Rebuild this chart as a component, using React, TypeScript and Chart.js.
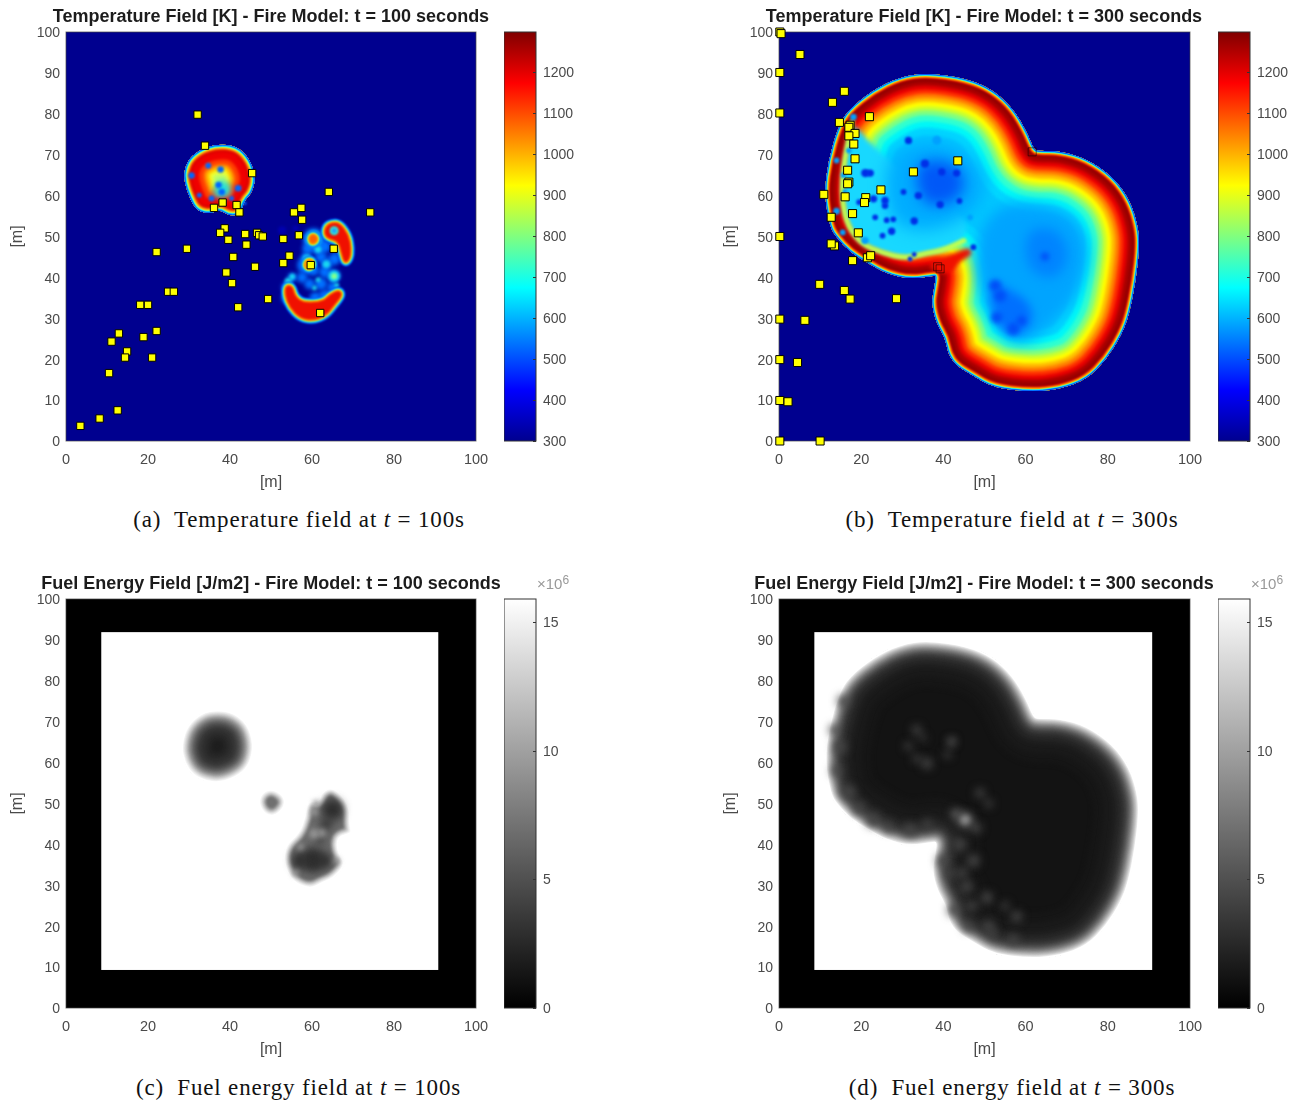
import React, { useEffect, useRef } from "react";
import { Chart, registerables } from "chart.js";

Chart.register(...registerables);

type Pt = number[];

// ---------- sensor markers [x, y] in metres ----------
const markers100: Pt[] = [
  [32.1, 79.8], [33.9, 72.2], [45.4, 65.5], [64.1, 60.9], [38.2, 58.3], [41.6, 57.7], [36.1, 57], [42.3, 55.9],
  [55.6, 55.9], [57.4, 57], [57.6, 54.1], [74.2, 55.9], [38.7, 52], [37.6, 50.9], [39.6, 49.2], [43.7, 50.6],
  [46.6, 50.9], [47.1, 50.3], [48, 50], [53, 49.4], [56.8, 50.3], [22.1, 46.2], [29.5, 47], [44, 48], [40.8, 45],
  [54.5, 45.3], [53, 43.5], [46.1, 42.6], [59.7, 43], [65.3, 47], [39.1, 41.2], [40.5, 38.6], [24.9, 36.5],
  [26.3, 36.5], [18.1, 33.3], [20, 33.3], [49.3, 34.7], [42, 32.7], [62, 31.3], [12.9, 26.3], [22.1, 26.9],
  [11.1, 24.3], [18.9, 25.4], [14.9, 21.9], [14.4, 20.4], [21, 20.4], [10.5, 16.6], [12.6, 7.5], [8.2, 5.5], [3.5, 3.7],
];
const markers300: Pt[] = [
  [0.2, 100], [0.5, 99.6], [5.1, 94.5], [0.2, 90.1], [15.9, 85.5], [13, 82.8], [0.2, 80.2], [22, 79.3], [14.7, 77.9],
  [17.3, 77.2], [17, 76.7], [18.5, 75.2], [17, 74.6], [18.2, 72.6], [18.5, 69], [43.5, 68.5], [32.7, 65.8], [16.7, 66.2],
  [17, 63.3], [16.7, 62.9], [24.8, 61.4], [10.9, 60.3], [16.1, 59.7], [21.1, 59.5], [20.8, 58.3], [17.9, 55.6],
  [12.7, 54.7], [19.3, 50.9], [0.2, 50], [13.5, 47.7], [12.7, 48.2], [21.5, 44.8], [22.3, 45.3], [17.9, 44.1], [9.9, 38.3],
  [15.9, 36.8], [17.3, 34.7], [28.6, 34.8], [0.2, 29.8], [6.3, 29.5], [0.2, 19.9], [4.5, 19.2], [0.2, 9.9], [2.2, 9.6],
  [0.2, 0], [10, 0],
];
const hiddenMarkers300: Pt[] = [[39.2, 42.1], [38.6, 42.6], [61.6, 70.7]];

// ---------- field shapes ----------
const fullDomain: Pt[] = [[0, 0], [100, 0], [100, 100], [0, 100]];
const fuelDomain: Pt[] = [[8.6, 9.3], [90.8, 9.3], [90.8, 91.9], [8.6, 91.9]];

const burnOutline300: Pt[] = [
  [36, 90], [45.7, 88.6], [52.1, 85.8], [57, 81.2], [60.3, 75.5], [62, 71.3], [63, 70.9], [68.4, 70.9], [74.9, 69], [81.3, 64.5],
  [85.4, 58.8], [87.4, 52.3], [87.7, 47.4], [86.8, 39.2], [85.2, 31], [83.4, 26.1], [79.7, 20], [74.9, 15.1], [68.4, 12.7],
  [61.1, 12], [52.1, 13.1], [47.3, 15.9], [43.2, 18.4], [41.2, 21.2], [40.4, 25.3], [38.4, 28.6], [37.1, 33.5], [37.8, 37.6],
  [38.2, 40.4], [37.6, 40.4], [31.9, 39.6], [26.2, 40.9], [21.3, 43.7], [17.3, 46.2], [14, 49.8], [12.4, 52.3], [11, 60.4],
  [12, 68.6], [14.4, 76.8], [16.9, 81], [22.9, 85.8], [29.4, 89],
];
const frontOverlay300: Pt[] = [
  [17.8, 78], [17, 74], [16, 69], [15.4, 64], [15.4, 58], [16.8, 52.5], [20, 48.2], [25, 46], [31, 44.6], [36, 46], [40, 46.6],
  [45, 49], [46, 53], [42, 58], [32, 64], [23, 72],
];
const frontLine300: Pt[] = [
  [17.8, 78], [17, 74], [16, 69], [15.4, 64], [15.4, 58], [16.8, 52.5], [20, 48.2], [25, 46], [31, 44.6], [36, 46], [40, 46.6], [45, 49],
];
const coolZone300: Pt[] = [
  [29, 72], [38, 74], [47, 70], [51, 63], [48, 56], [38, 51], [29, 52], [26, 58], [26, 67],
];
const coolCore300: Pt[] = [[33, 68], [40, 69], [45, 66], [45, 60], [39, 57], [34, 59]];
const coolZoneRight300: Pt[] = [
  [54, 58], [64, 58], [72, 55], [76, 47], [73, 36], [66, 28], [59, 23], [54, 26], [49, 35], [47.5, 44], [49, 52],
];
const coolCoreRight300: Pt[] = [
  [52, 39], [56, 37], [61, 34], [62, 29], [58, 25.5], [54, 27], [51.5, 33],
];
const coolCoreRight300b: Pt[] = [[60, 52], [68, 52], [71, 45], [67, 39], [60, 42]];
const bluePits300: Pt[] = [
  [31.5, 73.5, 0.9], [21, 65.5, 1], [22.2, 65.5, 0.9], [35.5, 67.8, 1], [43.2, 65.5, 0.9], [39.6, 65.8, 0.9], [33.9, 60, 0.9], [30.3, 60.9, 0.7],
  [23, 59.2, 0.9], [25.8, 58.8, 0.9], [25.8, 57.5, 0.8], [19.5, 58.4, 0.7], [39.2, 57.8, 0.9], [43.9, 58.7, 0.7], [32.9, 53.8, 0.9],
  [27.4, 51.3, 0.9], [27.8, 54.2, 0.7], [26.2, 54, 0.7], [23.4, 54.7, 0.7], [25.2, 50.2, 0.7], [47.3, 47.4, 0.7], [32.9, 45.6, 0.6],
  [31.9, 44.5, 0.6],
];
const bluePitsRight300: Pt[] = [
  [64.7, 45.1, 1], [52.6, 38, 1.5], [53.8, 35.5, 1.5], [53, 30.2, 1.4], [57, 27.4, 1.5], [59, 29.4, 1.2],
];
const cyanPits300: Pt[] = [
  [18.1, 79.2, 0.8], [14, 56.2, 0.8], [15.5, 51, 0.7], [14, 68.6, 0.7], [15.7, 65, 0.7], [20.9, 49, 0.9], [38.4, 73.5, 1.1],
  [17, 71, 0.7], [46.5, 54.7, 0.7], [16, 61, 0.6],
];
const redTongue300: Pt[] = [[36, 43], [40, 45], [44, 46.5], [46.5, 47.4], [47.2, 45.5], [44, 44], [42, 41], [38.5, 41]];

const blobA100: Pt[] = [
  [36.7, 72.6], [41.6, 72.2], [44.9, 68.9], [46.3, 64.2], [45.3, 60.6], [43.6, 58.9], [42.4, 55.3], [39.6, 55.1], [37.5, 56.6], [35.1, 55.5],
  [31.9, 56.3], [30.2, 59.3], [28.6, 64.2], [29.4, 68.3], [32.3, 71.1],
];
const pitsA100: Pt[] = [
  [34.7, 67.3, 0.7], [37.7, 66.4, 0.8], [30.6, 64.9, 0.8], [32.5, 60.1, 0.6], [37.2, 62.6, 0.8], [38, 60.9, 0.8], [35.5, 59.3, 0.7],
  [42, 61.8, 0.8], [40.4, 59.3, 0.6], [43.6, 58.1, 0.4],
];
const coolA100: Pt[] = [[36.8, 64], [39.8, 63.6], [40.6, 60.2], [37.5, 59.2], [35.6, 60]];
const hazeB100: Pt[] = [
  [59, 47, 1.4], [58.5, 45, 1.1], [61.3, 47, 1.4], [62.2, 45, 1.4], [63.6, 43.3, 1.4], [65.5, 44.5, 1.5], [60.4, 41.7, 1.3],
  [63.1, 41.3, 1.4], [65.3, 40.4, 1.6], [55.2, 40, 1.1], [57.6, 40, 1.3], [59.4, 38.4, 1.3], [62.2, 38.4, 1.5], [65, 37.6, 1.3],
  [53.8, 37.6, 1.2], [60.8, 35, 1.4], [63.2, 35.5, 1.5], [56.2, 34.3, 1.3], [54, 35, 1.4], [66, 47.5, 1.5], [60.4, 49.4, 2.6], [63, 47.6, 1.6], [58.6, 43, 2.2],
];
const hazeBright100: Pt[] = [[65.4, 40.3, 1.4], [61.5, 46.8, 0.8], [55.2, 40.2, 0.7], [63.5, 43.2, 0.9], [60.6, 37.4, 0.6], [66, 38, 0.6], [61.5, 39.4, 0.6], [60.4, 49.4, 2], [58.8, 44.5, 1.1], [54.2, 39, 0.9]];
const hazeGreen100: Pt[] = [[65.4, 40.3, 0.7]];
const hazeFaint100: Pt[] = [[52.7, 51.5, 1], [53.4, 49.5, 0.9], [56, 52, 0.7]];
const hotUpper100: Pt[] = [
  [63, 50.8], [63.4, 52.6], [65, 53.4], [66.8, 53.2], [68.9, 50.4], [69.5, 47], [69.2, 44.5], [68, 43.4], [67.2, 45.9], [66.5, 48.8], [63.8, 49.6],
];
const hotLobe100: Pt[] = [[59.2, 49.6], [60.2, 50.6], [61.3, 49.8], [61.1, 48.6], [59.8, 48.2]];
const hotSmall100: Pt[] = [[58.1, 43], [58.8, 44.3], [60.2, 44.2], [60.4, 42.6], [59, 41.9]];
const hotArc100: Pt[] = [
  [53.6, 38], [53.4, 35.7], [54.6, 32.6], [57.2, 30], [60.3, 29.5], [63.4, 30.7], [65.4, 33.2], [67.4, 35.7], [66.6, 36.9], [64.4, 35.8],
  [62.6, 34], [58, 33.8], [55.9, 35.2], [55.2, 37.9],
];
const pitUpper100: Pt[] = [[65.4, 51.4, 1.1]];
const pitUpperCore100: Pt[] = [[65.4, 51.4, 0.6]];

const fuelCircle100: Pt[] = [
  [37, 73], [41, 72.2], [44.4, 69.4], [45.9, 64.5], [45, 59.8], [42.6, 57], [38, 55], [34, 55.4], [30.8, 57], [28.8, 60], [28, 64],
  [29.4, 69], [33, 72.2],
];
const fuelSmall100: Pt[] = [[50.2, 53.8], [53.2, 52], [53.6, 49.4], [51.2, 46.8], [48.4, 47.2], [46.8, 50], [47.6, 52.6]];
const fuelRight100: Pt[] = [
  [65.2, 54.2], [69.2, 50], [69.4, 44.3], [69.9, 42.6], [66.2, 41.8], [66.4, 38], [68.4, 35.2], [65.2, 31.6], [62.6, 30.6], [59.5, 28.9], [55, 30.9], [53, 35.4],
  [53.4, 39.8], [56.8, 42.8], [58.2, 46.7], [58.9, 50.8], [61.6, 50.4], [62.4, 53],
];
const fuelDarkRight100: Pt[] = [[65, 48.5, 2.6], [63.5, 45, 1.4], [60.2, 36.2, 3], [57, 36, 2], [63, 36, 1.8], [62, 41, 0.9]];
const fuelLightRight100: Pt[] = [[60.5, 42.6, 1.2], [62.4, 42.8, 0.9], [57.2, 39.4, 0.8], [56, 33, 0.8], [66, 36, 0.8], [61, 50, 0.8], [60.5, 48, 1]];

const fuelLight300: Pt[] = [
  [33.5, 67.9, 1.2], [31.5, 64, 1], [35, 66, 0.8], [42, 65.1, 1], [36, 59.8, 1.4], [33.5, 61, 1], [41, 62, 0.9], [48.9, 52.5, 1.2], [51, 50, 1],
  [16.9, 52.8, 1.8], [14, 58, 1.4], [19.5, 49, 1.5], [22.9, 46, 1.8], [26.5, 44.4, 1.3], [31.9, 43.5, 1.7], [36, 45, 1.2],
  [40, 36, 1.7], [41.5, 33, 1.3], [47.3, 36, 1.6], [44.5, 33, 1.4], [50.6, 27, 1.5], [47, 25, 1.3], [57.8, 22.4, 1.4], [57, 16.7, 1.4], [52, 18, 1.2],
  [45.7, 29.7, 1.5], [14.8, 63.9, 1.7], [15.7, 75, 1.5], [13.5, 68, 1.3], [44, 40, 1.6], [48, 44, 1.4], [42.5, 24, 1.5], [51, 20, 1.5], [46, 20, 1.3], [55, 25, 1],
];
const fuelBright300: Pt[] = [[45.3, 46, 2], [42, 65.1, 0.7], [43, 47.5, 1.2]];
const fuelBrightest300: Pt[] = [[45.3, 46, 1]];

// ---------- colour scales ----------
const jetStops: [number, string][] = [
  [0, "#00008f"], [0.125, "#0000ff"], [0.375, "#00ffff"], [0.625, "#ffff00"], [0.875, "#ff0000"], [1, "#800000"],
];
const grayStops: [number, string][] = [[0, "#000000"], [1, "#ffffff"]];

const tempRamp: [number, string][] = [
  [15, "#00d8ff"], [13, "#00f8f8"], [11.5, "#30ffd0"], [10, "#80ff80"], [8.8, "#c8ff30"], [7.8, "#ffff00"], [6.8, "#ffc000"],
  [5.8, "#ff8000"], [4.8, "#ff3000"], [3.8, "#e80000"], [2.8, "#a80000"], [1.6, "#800000"], [1.2, "#b00000"], [0.95, "#f00000"],
  [0.78, "#ff8000"], [0.62, "#ffe000"], [0.46, "#40ffc0"], [0.3, "#00b0ff"], [0.15, "#0040ff"],
];
const hotRamp: [number, string][] = [
  [7, "#f0ff30"], [6.2, "#ffd000"], [5.5, "#ff9000"], [4.8, "#ff4000"], [3.6, "#f00000"], [1.8, "#d80000"], [1.2, "#ff3000"], [0.95, "#ffb000"],
  [0.75, "#d0ff40"], [0.55, "#30ffd0"], [0.35, "#00a0ff"], [0.15, "#0040ff"],
];
const glowRamp: [number, string][] = [
  [1, "#0050ff"], [0.8, "#00a0ff"], [0.6, "#20e0e0"], [0.42, "#a0ff60"], [0.28, "#ffe000"], [0.14, "#ff8000"],
];
const fuelRamp100: [number, string][] = [
  [7, "#282828"], [5.5, "#333333"], [4, "#4a4a4a"], [3, "#666666"], [2.3, "#888888"], [1.6, "#b0b0b0"], [1, "#d8d8d8"], [0.6, "#f4f4f4"], [0.3, "#ffffff"],
];
const fuelRamp300: [number, string][] = [
  [11, "#161616"], [8.5, "#1a1a1a"], [6, "#242424"], [4.5, "#303030"], [3.4, "#444444"], [2.6, "#606060"], [1.9, "#888888"], [1.2, "#b4b4b4"], [0.7, "#e4e4e4"], [0.3, "#ffffff"],
];

// ---------- tick / text ----------
const xTicks = [0, 20, 40, 60, 80, 100];
const yTicks = [0, 10, 20, 30, 40, 50, 60, 70, 80, 90, 100];
const tempRange = [300, 1297.5];
const fuelRange = [0, 15.9];
const tempTicks = [300, 400, 500, 600, 700, 800, 900, 1000, 1100, 1200];
const fuelTicks = [0, 5, 10, 15];

type Layer = {
  pts: Pt[];
  color: string;
  kind?: "poly" | "ring" | "glow" | "dots" | "line" | "rect";
  blur?: number;
  ramp?: [number, string][];
  width?: number;
  soft?: boolean;
};

const field300: Layer[] = [
  { kind: "rect", pts: fullDomain, color: "#00008f" },
  { kind: "ring", pts: burnOutline300, color: "#00c8ff", ramp: tempRamp, blur: 1.8 },
  { pts: frontOverlay300, color: "#18d8ff", blur: 2.5 },
  { kind: "line", pts: frontLine300, color: "#c0ff50", width: 1.2, blur: 1.5 },
  { pts: redTongue300, color: "#f01000", blur: 2 },
  { pts: coolZone300, color: "#00acff", blur: 8 },
  { pts: coolCore300, color: "#0058f8", blur: 7 },
  { pts: coolZoneRight300, color: "#00a4ff", blur: 7 },
  { pts: coolCoreRight300, color: "#0070ff", blur: 5 },
  { pts: coolCoreRight300b, color: "#0084ff", blur: 6 },
  { kind: "dots", pts: cyanPits300, color: "#00a0ff", blur: 1 },
  { kind: "dots", pts: bluePits300, color: "#0030e8", blur: 1 },
  { kind: "dots", pts: bluePitsRight300, color: "#0050f8", blur: 2.5 },
];

const field100: Layer[] = [
  { kind: "rect", pts: fullDomain, color: "#00008f" },
  { kind: "dots", pts: hazeFaint100, color: "#0000b0", blur: 1.5 },
  { kind: "dots", pts: hazeB100, color: "#0070ff", blur: 2 },
  { kind: "dots", pts: hazeBright100, color: "#18d8f0", blur: 1.5 },
  { kind: "dots", pts: hazeGreen100, color: "#80ff90", blur: 1 },
  { kind: "glow", pts: hotArc100, color: "#f01000", ramp: glowRamp, blur: 0.9 },
  { kind: "glow", pts: hotUpper100, color: "#f01000", ramp: glowRamp, blur: 0.9 },
  { kind: "glow", pts: hotLobe100, color: "#ff6000", ramp: glowRamp, blur: 0.8 },
  { kind: "glow", pts: hotSmall100, color: "#ff9000", ramp: glowRamp, blur: 0.8 },
  { kind: "dots", pts: pitUpper100, color: "#30e8d0", blur: 1 },
  { kind: "dots", pts: pitUpperCore100, color: "#20a0ff", blur: 0.8 },
  { kind: "ring", pts: blobA100, color: "#c8ff60", ramp: hotRamp, blur: 1.5 },
  { pts: coolA100, color: "#20e0e0", blur: 3 },
  { kind: "dots", pts: pitsA100, color: "#0068ff", blur: 1 },
];

const fuel100: Layer[] = [
  { kind: "rect", pts: fullDomain, color: "#000000" },
  { kind: "rect", pts: fuelDomain, color: "#ffffff" },
  { kind: "ring", pts: fuelCircle100, color: "#1e1e1e", ramp: fuelRamp100, blur: 2, soft: true },
  { kind: "ring", pts: fuelSmall100, color: "#707070", ramp: fuelRamp100.slice(5), blur: 1.6, soft: true },
  { kind: "ring", pts: fuelRight100, color: "#6a6a6a", ramp: fuelRamp100.slice(5), blur: 1.8, soft: true },
  { kind: "dots", pts: fuelDarkRight100, color: "#2e2e2e", blur: 4 },
  { kind: "dots", pts: fuelLightRight100, color: "#949494", blur: 2.5 },
];

const fuel300: Layer[] = [
  { kind: "rect", pts: fullDomain, color: "#000000" },
  { kind: "rect", pts: fuelDomain, color: "#ffffff" },
  { kind: "ring", pts: burnOutline300, color: "#131313", ramp: fuelRamp300, blur: 2.5, soft: true },
  { kind: "dots", pts: fuelLight300, color: "#444444", blur: 4.5 },
  { kind: "dots", pts: fuelBright300, color: "#666666", blur: 4 },
  { kind: "dots", pts: fuelBrightest300, color: "#8c8c8c", blur: 2.5 },
];

// ---------- plugins ----------
const fieldPlugin = {
  id: "fieldLayers",
  beforeDatasetsDraw(chart: any, _a: any, opts: any) {
    const layers: Layer[] = opts.layers || [];
    const { ctx, chartArea: ca, scales } = chart;
    const sx = scales.x;
    const sy = scales.y;
    const unit = Math.abs(sx.getPixelForValue(1) - sx.getPixelForValue(0));
    const px = (p: Pt) => [sx.getPixelForValue(p[0]), sy.getPixelForValue(p[1])];
    const smooth = (pts: Pt[], closed: boolean) => {
      const q = pts.map(px);
      ctx.beginPath();
      if (closed) {
        const n = q.length;
        ctx.moveTo((q[n - 1][0] + q[0][0]) / 2, (q[n - 1][1] + q[0][1]) / 2);
        for (let i = 0; i < n; i++) {
          const b = q[(i + 1) % n];
          ctx.quadraticCurveTo(q[i][0], q[i][1], (q[i][0] + b[0]) / 2, (q[i][1] + b[1]) / 2);
        }
        ctx.closePath();
      } else {
        ctx.moveTo(q[0][0], q[0][1]);
        for (let i = 1; i < q.length - 1; i++) {
          ctx.quadraticCurveTo(q[i][0], q[i][1], (q[i][0] + q[i + 1][0]) / 2, (q[i][1] + q[i + 1][1]) / 2);
        }
        ctx.lineTo(q[q.length - 1][0], q[q.length - 1][1]);
      }
    };
    ctx.save();
    ctx.beginPath();
    ctx.rect(ca.left, ca.top, ca.right - ca.left, ca.bottom - ca.top);
    ctx.clip();
    for (const l of layers) {
      ctx.save();
      const f = l.blur ? `blur(${l.blur}px)` : "none";
      ctx.lineJoin = "round";
      ctx.lineCap = "round";
      if (l.kind === "rect") {
        const a = px(l.pts[0]);
        const b = px(l.pts[2]);
        ctx.fillStyle = l.color;
        ctx.fillRect(a[0], b[1], b[0] - a[0], a[1] - b[1]);
      } else if (l.kind === "ring") {
        ctx.save();
        smooth(l.pts, true);
        ctx.fillStyle = l.color;
        ctx.fill();
        ctx.clip();
        for (const [d, c] of l.ramp || []) {
          const b = Math.min(l.blur || 0, d * unit * (l.soft ? 0.8 : 0.35));
          ctx.filter = `blur(${b}px)`;
          smooth(l.pts, true);
          ctx.strokeStyle = c;
          ctx.lineWidth = 2 * d * unit;
          ctx.stroke();
        }
        ctx.restore();
        if (l.soft) {
          // erase the hard anti-aliased rim: the fuel field fades out to white
          smooth(l.pts, true);
          ctx.strokeStyle = "#ffffff";
          ctx.lineWidth = 2;
          ctx.stroke();
        }
      } else if (l.kind === "glow") {
        ctx.filter = f;
        for (const [d, c] of l.ramp || []) {
          smooth(l.pts, true);
          ctx.fillStyle = c;
          ctx.strokeStyle = c;
          ctx.lineWidth = 2 * d * unit;
          ctx.fill();
          ctx.stroke();
        }
        smooth(l.pts, true);
        ctx.fillStyle = l.color;
        ctx.fill();
      } else if (l.kind === "dots") {
        ctx.filter = f;
        ctx.fillStyle = l.color;
        for (const p of l.pts) {
          const q = px(p);
          ctx.beginPath();
          ctx.arc(q[0], q[1], p[2] * unit, 0, Math.PI * 2);
          ctx.fill();
        }
      } else if (l.kind === "line") {
        ctx.filter = f;
        smooth(l.pts, false);
        ctx.strokeStyle = l.color;
        ctx.lineWidth = (l.width || 1) * unit;
        ctx.stroke();
      } else {
        ctx.filter = f;
        smooth(l.pts, true);
        ctx.fillStyle = l.color;
        ctx.fill();
      }
      ctx.restore();
    }
    ctx.restore();
    ctx.save();
    ctx.strokeStyle = "rgba(70,70,70,0.7)";
    ctx.lineWidth = 1;
    ctx.strokeRect(ca.left, ca.top, ca.right - ca.left, ca.bottom - ca.top);
    ctx.restore();
  },
};

const barFramePlugin = {
  id: "barFrame",
  afterDatasetsDraw(chart: any) {
    const { ctx, chartArea: ca, scales } = chart;
    ctx.save();
    ctx.strokeStyle = "#333333";
    ctx.lineWidth = 1;
    ctx.strokeRect(ca.left, ca.top, ca.right - ca.left, ca.bottom - ca.top);
    for (const t of scales.y.ticks) {
      const y = Math.round(scales.y.getPixelForValue(t.value)) + 0.5;
      ctx.beginPath();
      ctx.moveTo(ca.right - 3, y);
      ctx.lineTo(ca.right, y);
      ctx.stroke();
    }
    ctx.restore();
  },
};

const FONT = "'Liberation Sans', Arial, sans-serif";
const TEXT = "#4a4a4a";

function makePlot(canvas: HTMLCanvasElement, cfg: any) {
  const plotBottom = cfg.plotH + 32;
  const H = canvas.height - plotBottom;
  const sets: any[] = [];
  if (cfg.markers) {
    sets.push({
      data: cfg.markers.map((p: Pt) => ({ x: p[0], y: p[1] })),
      pointStyle: "rect",
      pointRadius: cfg.radius,
      pointBackgroundColor: "#ffff00",
      pointBorderColor: "#000000",
      pointBorderWidth: 1,
      clip: false,
    });
  }
  if (cfg.ghosts) {
    sets.push({
      data: cfg.ghosts.map((p: Pt) => ({ x: p[0], y: p[1] })),
      pointStyle: "rect",
      pointRadius: cfg.radius,
      pointBackgroundColor: "rgba(0,0,0,0)",
      pointBorderColor: "rgba(30,0,0,0.6)",
      pointBorderWidth: 1,
    });
  }
  return new Chart(canvas, {
    type: "scatter",
    data: { datasets: sets },
    plugins: [fieldPlugin],
    options: {
      animation: false,
      responsive: false,
      devicePixelRatio: 1,
      layout: { padding: 0 },
      plugins: {
        legend: { display: false },
        tooltip: { enabled: false },
        title: {
          display: true,
          text: cfg.title,
          color: "#1c1c1c",
          font: { family: FONT, size: 18, weight: "bold", lineHeight: 1 },
          padding: { top: 8, bottom: 6 },
        },
        fieldLayers: { layers: cfg.layers },
      },
      scales: {
        x: {
          type: "linear",
          min: 0,
          max: 100,
          afterFit(s: any) { s.height = H; },
          afterBuildTicks(s: any) { s.ticks = xTicks.map((v) => ({ value: v })); },
          grid: { display: false, drawTicks: false },
          border: { display: false },
          ticks: { color: TEXT, font: { family: FONT, size: 14.5 }, padding: 10, maxRotation: 0, autoSkip: false },
          title: { display: true, text: "[m]", color: TEXT, font: { family: FONT, size: 16 }, padding: { top: 0, bottom: 7.4 } },
        },
        y: {
          type: "linear",
          min: 0,
          max: 100,
          afterFit(s: any) { s.width = 66; },
          afterBuildTicks(s: any) { s.ticks = yTicks.map((v) => ({ value: v })); },
          grid: { display: false, drawTicks: false },
          border: { display: false },
          ticks: { color: TEXT, font: { family: FONT, size: 14 }, padding: 6, autoSkip: false, labelOffset: 1.5 },
          title: { display: true, text: "[m]", color: TEXT, font: { family: FONT, size: 16 }, padding: { top: 8.4, bottom: 0 } },
        },
        y2: {
          type: "linear",
          position: "right",
          min: 0,
          max: 100,
          afterFit(s: any) { s.width = canvas.width - 66 - cfg.plotW; },
          grid: { display: false, drawTicks: false },
          border: { display: false },
          ticks: { display: false },
        },
      },
    } as any,
  });
}

function makeBar(canvas: HTMLCanvasElement, cfg: any) {
  const stops: [number, string][] = cfg.stops;
  return new Chart(canvas, {
    type: "bar",
    data: {
      labels: [""],
      datasets: [
        {
          data: [cfg.range as any],
          barPercentage: 1,
          categoryPercentage: 1,
          backgroundColor: (c: any) => {
            const ca = c.chart.chartArea;
            if (!ca) return stops[0][1];
            const g = c.chart.ctx.createLinearGradient(0, ca.bottom, 0, ca.top);
            stops.forEach(([t, col]) => g.addColorStop(t, col));
            return g;
          },
        },
      ],
    },
    plugins: [barFramePlugin],
    options: {
      animation: false,
      responsive: false,
      devicePixelRatio: 1,
      layout: { padding: { left: 0, right: 0, top: 32, bottom: canvas.height - 32 - cfg.plotH } },
      plugins: { legend: { display: false }, tooltip: { enabled: false }, title: { display: false } },
      scales: {
        x: { display: false },
        y: {
          position: "right",
          min: cfg.range[0],
          max: cfg.range[1],
          afterFit(s: any) { s.width = canvas.width - 32; },
          grid: { display: false, drawOnChartArea: false, drawTicks: false },
          afterBuildTicks(s: any) { s.ticks = cfg.ticks.map((v: number) => ({ value: v })); },
          border: { display: false },
          ticks: {
            color: TEXT,
            font: { family: FONT, size: 14 },
            padding: 7,
            autoSkip: false,
            labelOffset: 1,
            callback: (v: number) => String(v),
          },
        },
      },
    } as any,
  });
}

const panels = [
  { left: 0, top: 0, plotW: 410, plotH: 409, title: "Temperature Field [K] - Fire Model: t = 100 seconds", layers: field100, markers: markers100, radius: 5.2, bar: { left: 504, stops: jetStops, range: tempRange, ticks: tempTicks } },
  { left: 713, top: 0, plotW: 411, plotH: 409, title: "Temperature Field [K] - Fire Model: t = 300 seconds", layers: field300, markers: markers300, ghosts: hiddenMarkers300, radius: 5.7, bar: { left: 1218, stops: jetStops, range: tempRange, ticks: tempTicks } },
  { left: 0, top: 567, plotW: 410, plotH: 409, title: "Fuel Energy Field [J/m2] - Fire Model: t = 100 seconds", layers: fuel100, bar: { left: 504, stops: grayStops, range: fuelRange, ticks: fuelTicks } },
  { left: 713, top: 567, plotW: 411, plotH: 409, title: "Fuel Energy Field [J/m2] - Fire Model: t = 300 seconds", layers: fuel300, bar: { left: 1218, stops: grayStops, range: fuelRange, ticks: fuelTicks } },
];

const captions = [
  { label: "(a)", text: "Temperature field at", value: "100s", cx: 299, y: 520 },
  { label: "(b)", text: "Temperature field at", value: "300s", cx: 1012, y: 520 },
  { label: "(c)", text: "Fuel energy field at", value: "100s", cx: 298.5, y: 1088 },
  { label: "(d)", text: "Fuel energy field at", value: "300s", cx: 1012, y: 1088 },
];

const exponents = [537, 1251];

export default function App() {
  const refs = useRef<(HTMLCanvasElement | null)[]>([]);
  useEffect(() => {
    const charts: Chart[] = [];
    panels.forEach((p, i) => {
      const c = refs.current[i * 2];
      const b = refs.current[i * 2 + 1];
      if (c) charts.push(makePlot(c, p));
      if (b) charts.push(makeBar(b, { ...p.bar, plotH: p.plotH }));
    });
    return () => charts.forEach((c) => c.destroy());
  }, []);
  return (
    <div style={{ position: "absolute", left: 0, top: 0, width: 1300, height: 1103, background: "#fff", overflow: "hidden", filter: "blur(0.45px)" }}>
      {panels.map((p, i) => (
        <React.Fragment key={i}>
          <canvas
            ref={(el) => { refs.current[i * 2] = el; }}
            width={542}
            height={500}
            style={{ position: "absolute", left: p.left, top: p.top, width: 542, height: 500 }}
          />
          <canvas
            ref={(el) => { refs.current[i * 2 + 1] = el; }}
            width={82}
            height={500}
            style={{ position: "absolute", left: p.bar.left, top: p.top, width: 82, height: 500 }}
          />
        </React.Fragment>
      ))}
      {exponents.map((x, i) => (
        <div key={i} style={{ position: "absolute", left: x, top: 575, font: `15px ${FONT}`, color: "#999999", whiteSpace: "nowrap" }}>
          ×10<sup style={{ fontSize: 12, verticalAlign: "5px", lineHeight: 0 }}>6</sup>
        </div>
      ))}
      {captions.map((c, i) => (
        <div
          key={i}
          style={{
            position: "absolute",
            left: c.cx - 250,
            width: 500,
            top: c.y - 13,
            textAlign: "center",
            font: "23px/26px 'Liberation Serif', serif",
            color: "#111",
            letterSpacing: "0.85px",
            whiteSpace: "pre",
          }}
        >
          {c.label}{"  "}{c.text} <i>t</i> = {c.value}
        </div>
      ))}
    </div>
  );
}
